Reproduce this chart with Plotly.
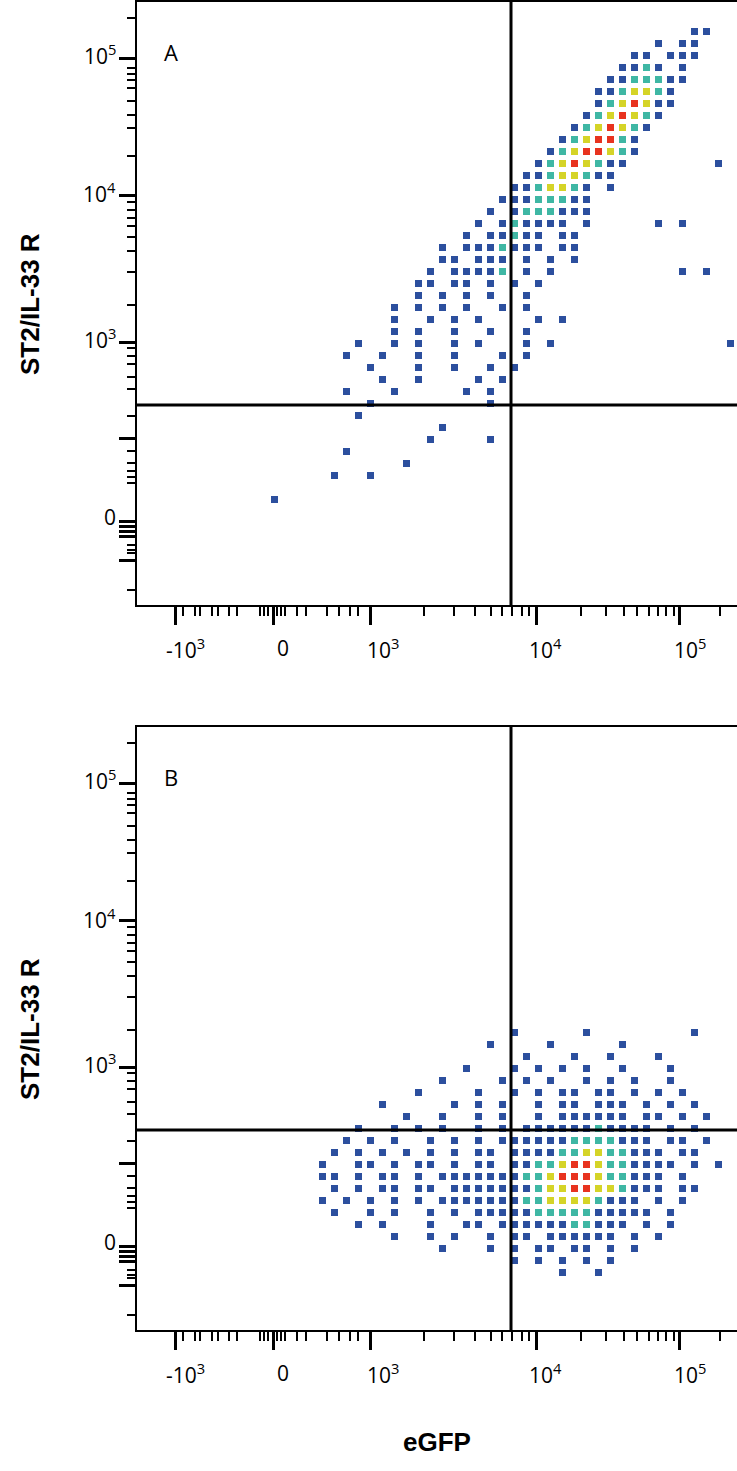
import plotly.graph_objects as go

# ---- axis geometry in display ("channel") units ----
x_major = [175, 273, 370, 536, 679]
x_labels = ["-10<sup>3</sup>", "0", "10<sup>3</sup>", "10<sup>4</sup>", "10<sup>5</sup>"]
x_label_pos = [185, 283, 383, 545, 690]
x_minor = [183, 195, 200, 212, 218, 229, 237, 260, 264, 268, 277, 281, 285,
           297, 306, 327, 339, 350, 358,
           424, 454, 475, 491, 502, 512, 522, 529,
           581, 606, 624, 637, 649, 658, 666, 674, 720]
y_major = [58, 195, 342, 438, 521, 526, 531, 536, 560]
y_labels = ["10<sup>5</sup>", "10<sup>4</sup>", "10<sup>3</sup>", "0"]
y_label_pos = [58, 197, 342, 521]
y_minor = [18, 68, 74, 80, 88, 101, 115, 128, 156,
           202, 210, 218, 226, 237, 251, 272, 305,
           348, 356, 364, 377, 389, 416, 451, 463, 471, 477, 483, 545, 550, 553, 590]

gate_x = 511
gate_y = 405
cell = 12
x0, y0 = 137, 2
ncols, nrows = 50, 50

# density cells: (row, start column, levels; '.' = empty, 1 low ... 4 high)
cells_A = [
    (2, 46, "11"), (3, 43, "1.11"), (4, 41, "11.111"), (5, 40, "1121.1"),
    (6, 39, "1122211"), (7, 38, "1123321"), (8, 38, "1234311"), (9, 37, "1234321"),
    (10, 36, "1234321"), (11, 35, "1234421"), (12, 34, "12344321"),
    (13, 33, "12343211"), (13, 48, "1"), (14, 32, "11233211"), (15, 31, "1123321.1"),
    (16, 30, "11122211."), (17, 29, "1.1222111"), (18, 28, "1.121111.1"), (18, 43, "1.1"),
    (19, 27, "1.11211.11"), (20, 25, "1.1112111.11"), (21, 25, "11.111.1.1.1"),
    (22, 24, "1.11112.1.1"), (22, 45, "1.1"), (23, 23, "11.11.1.1.1"),
    (24, 23, "1.1.1.1..1"), (25, 21, "1.1.1.1..1.1"), (26, 21, "1..1.1.1....1.1"),
    (27, 20, ".1.1..1..1..1."), (28, 18, "1..1.1..1.1...1.1"), (28, 49, "1"),
    (29, 17, "1..1..1..1...1.1"), (30, 19, "1...1..1..1.1"), (31, 20, "1..1....1.1"),
    (32, 17, "1...1.....1.1"), (33, 19, "1.........1"), (34, 18, "1"), (35, 25, "1"),
    (36, 24, "1....1"), (37, 17, "1"), (38, 22, "1"), (39, 16, "1..1"), (41, 11, "1"),
]
cells_B = [
    (25, 31, "1.....1........1"), (26, 29, "1....1.....1"), (27, 32, "1...1..1...1"),
    (28, 27, "1...1.1.1.1..1...1"), (29, 25, "1....1.1.1..1.1.1..1"),
    (30, 23, "1....1..1.1.11.11.1.1.1"), (31, 20, "1.....1.1.1..1.11.111.1.1.1"),
    (32, 22, "1..1..1.1..1.111111.11.1.1"), (33, 18, "1..1.1.1..1.1.11111121111.1.1"),
    (34, 17, "1.1.1..1.1.1.1111112222111.11.1"), (35, 16, "1.1.1.1.1.1.11.1111223322111.11"),
    (36, 15, "1..11.1.11.1.11.11223443221111.1.1"), (37, 15, "11.1.11.1.1111111223444322111.1"),
    (38, 16, "1.1.11.11.111111123344332111.11"), (39, 15, "1.1.1.1.1.11111112233332111.1.1"),
    (40, 16, "1..1.1..1.1.111112222211111.1"), (41, 18, "1.1...1..11.11111122111.1.1"),
    (42, 21, "1..1.1..1.11.111111.1.1"), (43, 25, "1...1.1.11.11.1.1"),
    (44, 31, "1.1.1.1.1"), (45, 35, "1..1"),
]

def grid(cells):
    z = [[None] * ncols for _ in range(nrows)]
    for r, c, s in cells:
        for i, ch in enumerate(s):
            if ch != "." and 0 <= c + i < ncols:
                z[r][c + i] = int(ch)
    return z

xs = [x0 + cell * (i + 0.5) for i in range(ncols)]
ys = [y0 + cell * (j + 0.5) for j in range(nrows)]
cs = [[0, "#2c4f9e"], [0.25, "#2c4f9e"], [0.25, "#3fb7a4"], [0.5, "#3fb7a4"],
      [0.5, "#b8d433"], [0.75, "#f2d31c"], [0.75, "#e8331f"], [1, "#e8331f"]]

fig = go.Figure()
for k, cells in enumerate([cells_A, cells_B]):
    ax = "" if k == 0 else "2"
    fig.add_trace(go.Heatmap(x=xs, y=ys, z=grid(cells), colorscale=cs, zmin=0.5, zmax=4.5,
                             showscale=False, xgap=5, ygap=5, hoverinfo="skip",
                             xaxis="x" + ax, yaxis="y" + ax))

tickfont = dict(family="Open Sans", size=21, color="black")
common_x = dict(range=[137, 737], showgrid=False, zeroline=False, showline=True, linecolor="black",
                linewidth=1.5, mirror=True, ticks="outside", tickmode="array", tickvals=x_major,
                showticklabels=False, ticklen=18, tickwidth=3, tickcolor="black",
                automargin=False,
                minor=dict(tickmode="array", tickvals=x_minor, ticks="outside", ticklen=9,
                           tickwidth=2, tickcolor="black"))
common_y = dict(range=[605, 2], showgrid=False, zeroline=False, showline=True, linecolor="black",
                linewidth=1.5, mirror=True, ticks="outside", tickmode="array", tickvals=y_major,
                showticklabels=False, ticklen=16, tickwidth=3, tickcolor="black",
                automargin=False,
                minor=dict(tickmode="array", tickvals=y_minor, ticks="outside", ticklen=8,
                           tickwidth=2, tickcolor="black"))

H = 1471.0
W = 737.0
fig.update_layout(
    width=737, height=1471, margin=dict(l=0, r=0, t=0, b=0, pad=0), autosize=False,
    paper_bgcolor="white", plot_bgcolor="white", showlegend=False,
    xaxis=dict(common_x, domain=[137 / W, 1], anchor="y"),
    yaxis=dict(common_y, domain=[1 - 605 / H, 1 - 2 / H], anchor="x"),
    xaxis2=dict(common_x, domain=[137 / W, 1], anchor="y2"),
    yaxis2=dict(common_y, domain=[1 - 1330 / H, 1 - 727 / H], anchor="x2"),
)

shapes = []
for k, ax in enumerate(["", "2"]):
    off = 725 * k
    xr, yr = "x" + ax, "y" + ax
    for p, t in zip(x_label_pos, x_labels):
        fig.add_annotation(x=p / W, y=1 - (648 + off) / H, xref="paper", yref="paper", text=t,
                           showarrow=False, font=tickfont, xanchor="center", yanchor="middle")
    for p, t in zip(y_label_pos, y_labels):
        fig.add_annotation(x=118 / W, y=1 - (p + off - 4) / H, xref="paper", yref="paper", text=t,
                           showarrow=False, font=tickfont, xanchor="right", yanchor="middle")
    shapes.append(dict(type="line", xref=xr, yref=yr, x0=gate_x, x1=gate_x, y0=2, y1=605,
                       line=dict(color="black", width=3)))
    shapes.append(dict(type="line", xref=xr, yref=yr, x0=137, x1=737, y0=gate_y, y1=gate_y,
                       line=dict(color="black", width=3)))
    fig.add_annotation(x=171 / W, y=1 - (52 + off) / H, xref="paper", yref="paper",
                       text="A" if k == 0 else "B", showarrow=False, xanchor="center",
                       yanchor="middle", font=dict(family="Open Sans", size=22, color="black"))
    fig.add_annotation(x=30 / W, y=1 - (304 + off) / H, xref="paper", yref="paper",
                       text="<b>ST2/IL-33 R</b>", showarrow=False, textangle=-90,
                       xanchor="center", yanchor="middle",
                       font=dict(family="Liberation Sans", size=26, color="black"))
fig.add_annotation(x=437 / W, y=1 - 1442 / H, xref="paper", yref="paper", text="<b>eGFP</b>",
                   showarrow=False, xanchor="center", yanchor="middle",
                   font=dict(family="Liberation Sans", size=26, color="black"))
fig.update_layout(shapes=shapes)
fig.write_html("out.html", config={"displayModeBar": False},
               post_script="document.body.style.margin='0';document.body.style.overflow='hidden';")
